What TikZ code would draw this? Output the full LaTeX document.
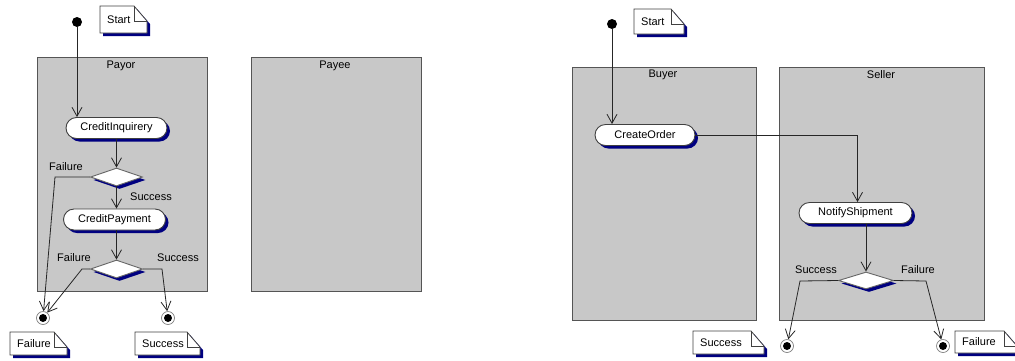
\documentclass[tikz,border=0pt]{standalone}
\usepackage{fontspec}
\setmainfont{Liberation Sans}
\usetikzlibrary{arrows.meta,shapes.geometric,shapes.misc,shadows}

\definecolor{lanegray}{RGB}{200,200,200}
\definecolor{shadownavy}{RGB}{0,0,128}
\definecolor{edgegray}{RGB}{85,85,85}

\tikzset{
  uml/.style={font=\fontsize{11}{13}\selectfont},
  lane/.style={draw=edgegray, fill=lanegray, line width=0.9pt, anchor=north west, inner sep=0pt},
  lanetitle/.style={uml, inner sep=0pt},
  navyshadow/.style={general shadow={shadow xshift=3pt, shadow yshift=-3pt, fill=shadownavy}},
  activity/.style={rounded rectangle, draw=black!75, fill=white, line width=0.9pt,
    minimum height=21pt, inner xsep=4pt, inner ysep=0pt, navyshadow, uml},
  decision/.style={diamond, draw=black!60, fill=white, line width=0.9pt,
    minimum width=52pt, minimum height=18pt, inner sep=0pt, navyshadow},
  initial/.style={circle, fill=black, minimum size=10pt, inner sep=0pt},
  final/.style={circle, draw=black!50, fill=white, line width=0.7pt, minimum size=13pt,
    inner sep=0pt, path picture={\fill[black] (path picture bounding box.center) circle (4pt);}},
  flow/.style={draw=black!85, line width=0.8pt, -{Straight Barb[length=9pt,width=10pt]}},
  guard/.style={uml, inner sep=0pt},
  notetext/.style={uml, inner sep=0pt, anchor=west},
  noteline/.style={draw=black!75, line width=0.8pt},
}

% UML note with a folded corner: name, left, top, right, bottom, text
\newcommand\umlnote[6]{%
  \fill[shadownavy] (#2+3,#3+3) -- (#4-10,#3+3) -- (#4+3,#3+18) -- (#4+3,#5+3) -- (#2+3,#5+3) -- cycle;
  \filldraw[noteline, fill=white] (#2,#3) -- (#4-13,#3) -- (#4,#3+15) -- (#4,#5) -- (#2,#5) -- cycle;
  \draw[noteline] (#4-13,#3) -- (#4-13,#3+15) -- (#4,#3+15);
  \node[notetext] (#1) at (#2+7,{(#3+#5)/2}) {#6};
}

\begin{document}
\begin{tikzpicture}[x=1pt, y={(0pt,-1pt)}]
\useasboundingbox (0,0) rectangle (1015,360);

% ---------- Payor / Payee ----------
\node[lane, minimum width=170pt, minimum height=234pt] (payor) at (37,57) {};
\node[lane, minimum width=170pt, minimum height=234pt] (payee) at (251,57) {};
\node[lanetitle] (payorT) at (121,66) {Payor};
\node[lanetitle] (payeeT) at (335,66) {Payee};

\node[initial] (s1) at (77,22) {};
\umlnote{startA}{100}{6}{147}{33}{Start}

\node[activity, minimum width=109pt] (ci) at (116.5,128) {CreditInquirery};
\node[decision] (d1) at (116.5,177) {};
\node[activity, minimum width=110pt] (cp) at (114.5,219.5) {CreditPayment};
\node[decision] (d2) at (116.5,269) {};

\node[final] (f1) at (43,318) {};
\node[final] (f2) at (168,318) {};

\coordinate (b1) at (55,177);
\coordinate (b2) at (82,269);
\coordinate (b3) at (162,269);

\draw[flow] (s1) -- (s1 |- ci.north);
\draw[flow] (ci.south -| d1.north) -- (d1.north);
\draw[flow] (d1.west) -- (b1) -- (f1);
\draw[flow] (d1.south) -- (d1.south |- cp.north);
\draw[flow] (cp.south -| d2.north) -- (d2.north);
\draw[flow] (d2.west) -- (b2) -- (f1);
\draw[flow] (d2.east) -- (b3) -- (f2);

\node[guard] (g1) at (66,167) {Failure};
\node[guard] (g2) at (151,197) {Success};
\node[guard] (g3) at (74,258) {Failure};
\node[guard] (g4) at (178,258) {Success};

\umlnote{failA}{10}{332}{67}{355}{Failure}
\umlnote{succA}{135}{332}{200}{355}{Success}

% ---------- Buyer / Seller ----------
\node[lane, minimum width=184pt, minimum height=253pt] (buyer) at (572,67) {};
\node[lane, minimum width=205pt, minimum height=253pt] (seller) at (779,67) {};
\node[lanetitle] (buyerT) at (663,75) {Buyer};
\node[lanetitle] (sellerT) at (881,75) {Seller};

\node[initial] (s2) at (612,24) {};
\umlnote{startB}{634}{9}{684}{34}{Start}

\node[activity, minimum width=108pt] (co) at (645,135) {CreateOrder};
\node[activity, minimum width=121pt] (ns) at (855.5,213) {NotifyShipment};
\node[decision, minimum width=55pt, minimum height=17pt] (d3) at (866,280.5) {};

\node[final] (f3) at (787,346) {};
\node[final] (f4) at (943,346) {};

\coordinate (b4) at (800,281);
\coordinate (b5) at (926,281);

\draw[flow] (s2) -- (s2 |- co.north);
\draw[flow] (co.east) -| ([xshift=2pt]ns.north);
\draw[flow] (d3.north |- ns.south) -- (d3.north);
\draw[flow] (d3.west) -- (b4) -- (f3);
\draw[flow] (d3.east) -- (b5) -- (f4);

\node[guard] (g5) at (816,270) {Success};
\node[guard] (g6) at (918,270) {Failure};

\umlnote{succB}{693}{331}{764}{354}{Success}
\umlnote{failB}{955}{331}{1017}{353}{Failure}
\end{tikzpicture}
\end{document}
